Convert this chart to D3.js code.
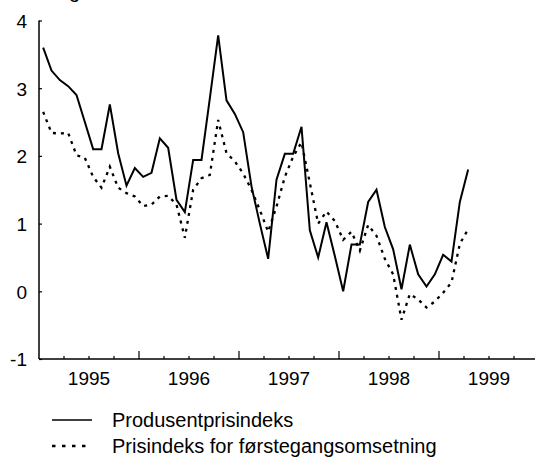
<!DOCTYPE html>
<html>
<head>
<meta charset="utf-8">
<script src="https://cdn.jsdelivr.net/npm/d3@7"></script>
<style>
  body { margin: 0; background: #fff; }
  svg { display: block; font-family: "Liberation Sans", Arial, sans-serif; }
  .axis text { font-size: 19px; fill: #000; }
  .legend text { font-size: 20px; fill: #000; }
</style>
</head>
<body>
<div id="chart"></div>
<script>
// monthly values, Jan 1995 - Apr 1999
var years = [1995, 1996, 1997, 1998, 1999];
var yTicks = [-1, 0, 1, 2, 3, 4];
var produsent = [
  3.6, 3.26, 3.12, 3.03, 2.9, 2.5, 2.1, 2.1, 2.76, 2.04, 1.56, 1.82,
  1.69, 1.75, 2.26, 2.12, 1.35, 1.17, 1.94, 1.94, 2.85, 3.78, 2.82, 2.62,
  2.35, 1.55, 1.0, 0.48, 1.65, 2.03, 2.03, 2.43, 0.9, 0.5, 1.02, 0.52,
  0.0, 0.69, 0.69, 1.32, 1.5, 0.95, 0.62, 0.03, 0.69, 0.25, 0.07, 0.25,
  0.54, 0.44, 1.32, 1.8
];
var forstegang = [
  2.65, 2.34, 2.33, 2.34, 2.01, 1.97, 1.69, 1.53, 1.84, 1.53, 1.45, 1.4,
  1.26, 1.28, 1.4, 1.41, 1.28, 0.79, 1.5, 1.67, 1.72, 2.53, 2.04, 1.92,
  1.74, 1.5, 1.2, 0.88, 1.25, 1.69, 1.99, 2.2, 1.6, 1.0, 1.18, 1.04,
  0.76, 0.88, 0.6, 0.98, 0.82, 0.48, 0.25, -0.42, -0.04, -0.12, -0.24, -0.15,
  -0.02, 0.13, 0.7, 0.92
];
var seriesNames = ["Produsentprisindeks", "Prisindeks for førstegangsomsetning"];

var width = 535, height = 458;

var x = d3.scaleLinear().domain([0, 60]).range([39, 539]);
var y = d3.scaleLinear().domain([-1, 4]).range([359, 20.5]);

var svg = d3.select("#chart").append("svg")
  .attr("width", width)
  .attr("height", height);

// unit label, cut off at the top edge like in the source
svg.append("text")
  .attr("x", 80)
  .attr("y", -2)
  .attr("text-anchor", "end")
  .style("font-size", "20px")
  .text("Endring");

// y axis
var yAxis = svg.append("g")
  .attr("class", "axis")
  .attr("transform", "translate(" + x(0) + ",0)")
  .call(d3.axisRight(y).tickValues(yTicks).tickSize(3)
    .tickFormat(function(d) { return String(d); }));
yAxis.select(".domain").attr("d", "M0," + y(4) + "V" + y(-1)).style("stroke-width", 1.5);
yAxis.selectAll(".tick line").style("stroke-width", 1.2);
yAxis.selectAll(".tick text")
  .attr("x", -12)
  .attr("text-anchor", "end")
  .attr("dy", "0.36em");

// x axis: quarter ticks, long ticks at year boundaries
var quarters = d3.range(3, 60, 3);
var xAxis = svg.append("g")
  .attr("class", "axis")
  .attr("transform", "translate(0," + y(-1) + ")");
xAxis.append("path")
  .attr("d", "M" + x(0) + ",0H" + x(60))
  .style("stroke", "#000")
  .style("stroke-width", 1.5);
xAxis.selectAll(".qt")
  .data(quarters)
  .enter().append("line")
  .attr("class", "qt")
  .attr("x1", function(d) { return x(d); })
  .attr("x2", function(d) { return x(d); })
  .attr("y1", 0)
  .attr("y2", function(d) { return d % 12 == 0 ? -8 : -3; })
  .style("stroke", "#000")
  .style("stroke-width", 1.2);
xAxis.selectAll(".yl")
  .data(years)
  .enter().append("text")
  .attr("class", "yl")
  .attr("x", function(d, i) { return x(i * 12 + 6); })
  .attr("y", 26)
  .attr("text-anchor", "middle")
  .text(function(d) { return d; });

var line = d3.line()
  .x(function(d, i) { return x(i + 0.5); })
  .y(function(d) { return y(d); });

svg.append("path")
  .datum(forstegang)
  .attr("d", line)
  .style("fill", "none")
  .style("stroke", "#000")
  .style("stroke-width", 2.3)
  .style("stroke-dasharray", "3,5");

svg.append("path")
  .datum(produsent)
  .attr("d", line)
  .style("fill", "none")
  .style("stroke", "#000")
  .style("stroke-width", 2)
  .style("stroke-linejoin", "miter");

// legend
var legend = svg.append("g").attr("class", "legend");
var rows = legend.selectAll("g")
  .data(seriesNames)
  .enter().append("g")
  .attr("transform", function(d, i) { return "translate(0," + (420 + i * 26) + ")"; });
rows.append("line")
  .attr("x1", 52)
  .attr("x2", 92)
  .style("stroke", "#000")
  .style("stroke-width", function(d, i) { return i == 0 ? 1.5 : 2.3; })
  .style("stroke-dasharray", function(d, i) { return i == 0 ? null : "3.5,6.5"; });
rows.append("text")
  .attr("x", 112)
  .attr("y", 7)
  .text(function(d) { return d; });
</script>
</body>
</html>
